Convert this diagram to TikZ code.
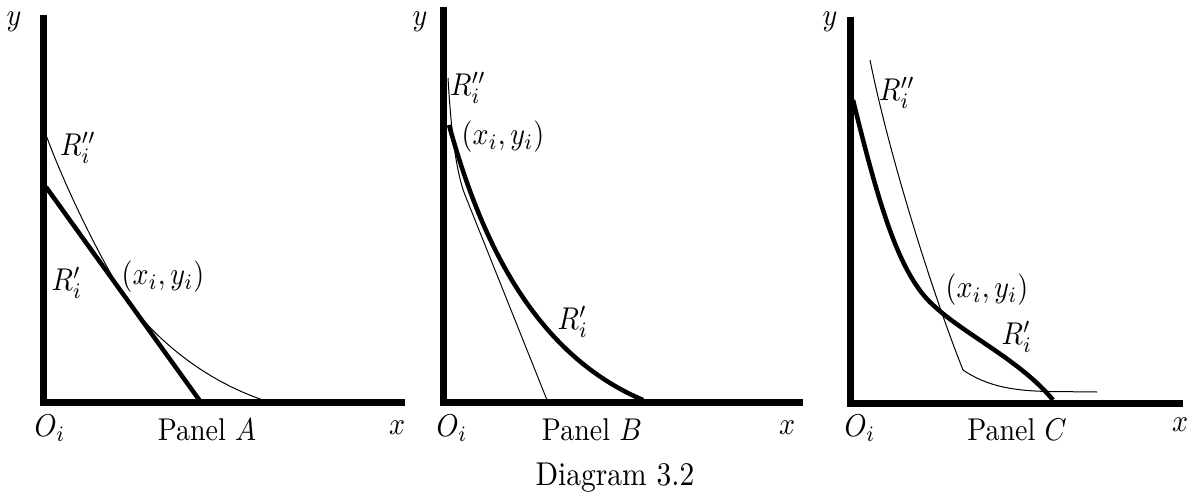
\documentclass[tikz,border=0pt]{standalone}
\usepackage{graphicx}
\newcommand{\bigtxt}[1]{\scalebox{2.8}[3.15]{#1}}
\newcommand{\captxt}[1]{\scalebox{2.95}[3.3]{#1}}
\begin{document}
\begin{tikzpicture}[x=1pt,y=-1pt,
  lbl/.style={inner sep=0pt},
  axisline/.style={line width=7pt, line join=miter},
  thickcurve/.style={line width=4.5pt},
  thincurve/.style={line width=1pt}]
\useasboundingbox (0,0) rectangle (1196,500);
% ---------- Panel A ----------
\coordinate (Atop) at (43,15);
\coordinate (Ao) at (43,402);
\coordinate (Aend) at (405,402);
\draw[axisline] (Atop) -- (Ao) -- (Aend);
\coordinate (Ap1) at (46,187);
\coordinate (Ap2) at (200,401);
\draw[thickcurve] (Ap1) -- (Ap2);
\coordinate (At1) at (46,135);
\coordinate (AT) at (127,300);
\coordinate (At2) at (263,400);
\draw[thincurve] (At1) .. controls (70,200) and (110,276) .. (AT)
  .. controls (144,324) and (190,375) .. (At2);
\node[lbl] (Ay) at (14,22) {\bigtxt{$y$}};
\node[lbl] (ARpp) at (78,148) {\bigtxt{$R_i^{\prime\prime}$}};
\node[lbl] (ARp) at (67,283) {\bigtxt{$R_i^{\prime}$}};
\node[lbl] (Axy) at (163,277) {\bigtxt{$(x_i,y_i)$}};
\node[lbl] (AO) at (50,428) {\bigtxt{$O_i$}};
\node[lbl] (Apanel) at (207,430) {\bigtxt{Panel $A$}};
\node[lbl] (Ax) at (397,428) {\bigtxt{$x$}};
% ---------- Panel B ----------
\coordinate (Btop) at (443,7);
\coordinate (Bo) at (443,402);
\coordinate (Bend) at (803,402);
\draw[axisline] (Btop) -- (Bo) -- (Bend);
\coordinate (Bp1) at (449,125);
\coordinate (Bp2) at (643,400);
\draw[thickcurve] (Bp1) .. controls (476,222) and (525,350) .. (Bp2);
\coordinate (Bt1) at (448,78);
\coordinate (Bk) at (465,195);
\coordinate (Bt2) at (547,400);
\draw[thincurve] (Bt1) .. controls (451,130) and (456,172) .. (Bk) -- (Bt2);
\node[lbl] (By) at (420,22) {\bigtxt{$y$}};
\node[lbl] (BRpp) at (468,88) {\bigtxt{$R_i^{\prime\prime}$}};
\node[lbl] (Bxy) at (503,137) {\bigtxt{$(x_i,y_i)$}};
\node[lbl] (BRp) at (573,322) {\bigtxt{$R_i^{\prime}$}};
\node[lbl] (BO) at (452,428) {\bigtxt{$O_i$}};
\node[lbl] (Bpanel) at (592,430) {\bigtxt{Panel $B$}};
\node[lbl] (Bx) at (787,428) {\bigtxt{$x$}};
% ---------- Panel C ----------
\coordinate (Ctop) at (850,17);
\coordinate (Co) at (850,403);
\coordinate (Cend) at (1183,403);
\draw[axisline] (Ctop) -- (Co) -- (Cend);
\coordinate (Cp1) at (853,100);
\coordinate (CT) at (933,305);
\coordinate (Cp2) at (1053,400);
\draw[thickcurve] (Cp1) .. controls (880,210) and (900,275) .. (CT)
  .. controls (965,335) and (1020,360) .. (Cp2);
\coordinate (Ct1) at (870,60);
\coordinate (Ck) at (963,370);
\coordinate (Cf) at (1050,391.5);
\coordinate (Ct2) at (1097,392);
\draw[thincurve] (Ct1) .. controls (890,160) and (935,300) .. (Ck)
  .. controls (985,385) and (1010,391) .. (Cf) -- (Ct2);
\node[lbl] (Cy) at (830,22) {\bigtxt{$y$}};
\node[lbl] (CRpp) at (897,93) {\bigtxt{$R_i^{\prime\prime}$}};
\node[lbl] (Cxy) at (987,290) {\bigtxt{$(x_i,y_i)$}};
\node[lbl] (CRp) at (1017,337) {\bigtxt{$R_i^{\prime}$}};
\node[lbl] (CO) at (860,428) {\bigtxt{$O_i$}};
\node[lbl] (Cpanel) at (1017,430) {\bigtxt{Panel $C$}};
\node[lbl] (Cx) at (1180,425) {\bigtxt{$x$}};
% ---------- caption ----------
\node[lbl] (caption) at (615,478) {\captxt{Diagram 3.2}};
\end{tikzpicture}
\end{document}
